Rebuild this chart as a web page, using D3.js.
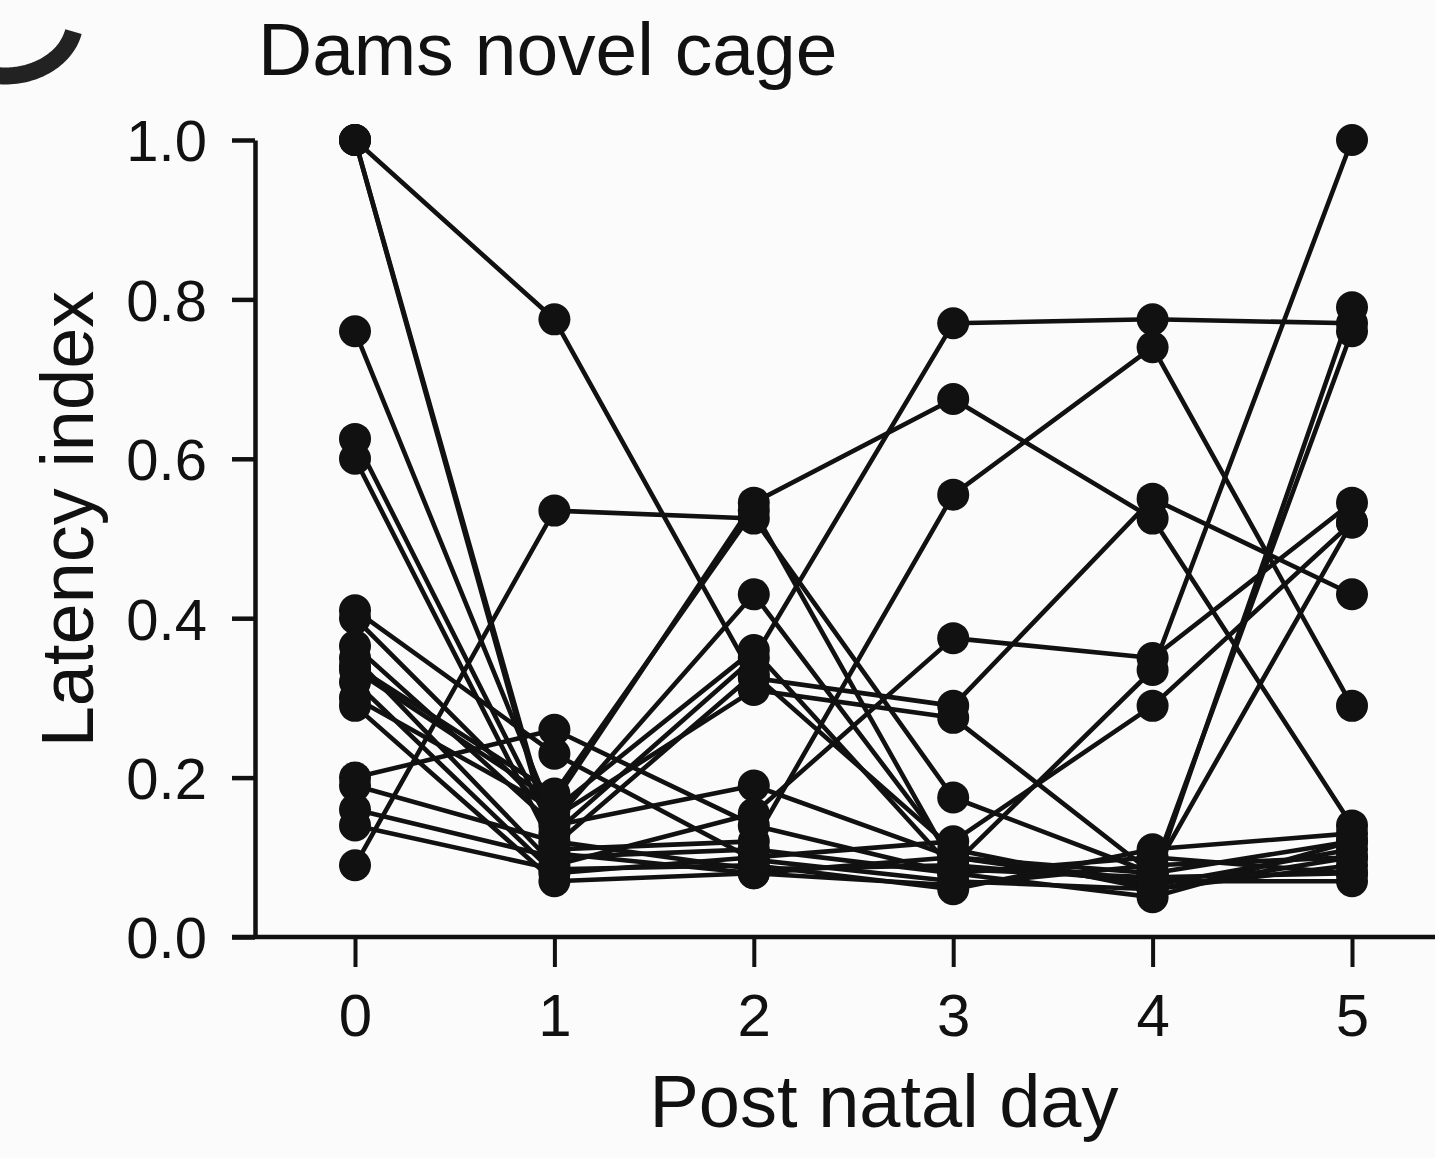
<!DOCTYPE html>
<html>
<head>
<meta charset="utf-8">
<script src="https://cdn.jsdelivr.net/npm/d3@7/dist/d3.min.js"></script>
<style>
  html, body { margin: 0; padding: 0; background: #fbfbfb; }
  svg { display: block; }
  text { font-family: "Liberation Sans", Arial, Helvetica, sans-serif; fill: #111; }
</style>
</head>
<body>
<svg id="chart" width="1435" height="1158"></svg>
<script>
// Post-natal days on the x axis
const days = [0, 1, 2, 3, 4, 5];
const yTicks = [0, 0.2, 0.4, 0.6, 0.8, 1.0];

// Latency index per dam, one array per animal (PND 0 .. 5)
const dam01 = [1.00, 0.775, 0.325, 0.290, 0.550, 0.430];
const dam02 = [1.00, 0.115, 0.330, 0.110, 0.060, 0.090];
const dam03 = [1.00, 0.105, 0.080, 0.100, 0.065, 0.110];
const dam04 = [0.76, 0.146, 0.430, 0.100, 0.070, 0.790];
const dam05 = [0.625, 0.130, 0.350, 0.770, 0.775, 0.770];
const dam06 = [0.600, 0.110, 0.120, 0.555, 0.740, 0.290];
const dam07 = [0.090, 0.535, 0.525, 0.175, 0.080, 0.760];
const dam08 = [0.200, 0.260, 0.140, 0.080, 0.100, 0.080];
const dam09 = [0.410, 0.230, 0.097, 0.070, 0.060, 0.100];
const dam10 = [0.400, 0.150, 0.310, 0.275, 0.080, 0.120];
const dam11 = [0.365, 0.140, 0.190, 0.100, 0.080, 0.520];
const dam12 = [0.350, 0.090, 0.155, 0.375, 0.350, 0.545];
const dam13 = [0.335, 0.170, 0.545, 0.675, 0.525, 0.140];
const dam14 = [0.320, 0.080, 0.100, 0.120, 0.290, 0.520];
const dam15 = [0.290, 0.070, 0.080, 0.065, 0.090, 0.100];
const dam16 = [0.190, 0.120, 0.085, 0.090, 0.070, 0.070];
const dam17 = [0.160, 0.100, 0.110, 0.080, 0.050, 0.120];
const dam18 = [0.140, 0.085, 0.090, 0.060, 0.110, 0.130];
const dam19 = [0.300, 0.160, 0.360, 0.085, 0.075, 0.080];
const dam20 = [0.340, 0.180, 0.535, 0.090, 0.335, 1.000];

const dams = [dam01, dam02, dam03, dam04, dam05, dam06, dam07, dam08, dam09, dam10,
              dam11, dam12, dam13, dam14, dam15, dam16, dam17, dam18, dam19, dam20];

const svg = d3.select("#chart");
const W = 1435;

const x = d3.scaleLinear().domain([0, 5]).range([355, 1352]);
const y = d3.scaleLinear().domain([0, 1]).range([937, 140]);

const ink = "#111";

// lower arc of the panel letter, the rest lies above the top edge
const cx = 5, cy = 20, rx = 70, ry = 56;
const a0 = 12 * Math.PI / 180, a1 = 104 * Math.PI / 180;
const arcPts = d3.range(0, 41).map(k => {
  const t = a0 + (a1 - a0) * k / 40;
  return [cx + rx * Math.cos(t), cy + ry * Math.sin(t)];
});
svg.append("path")
  .attr("d", d3.line()(arcPts))
  .attr("fill", "none")
  .attr("stroke", "#222")
  .attr("stroke-width", 17);

// title
svg.append("text")
  .attr("x", 258).attr("y", 75)
  .attr("font-size", 75)
  .text("Dams novel cage");

// y axis
const yAxis = d3.axisLeft(y)
  .tickValues(yTicks)
  .tickFormat(d3.format(".1f"))
  .tickSize(23)
  .tickSizeOuter(0)
  .tickPadding(25);
const gy = svg.append("g").attr("transform", "translate(255,0)").call(yAxis);
gy.select(".domain").attr("stroke", ink).attr("stroke-width", 4.5);
gy.selectAll(".tick line").attr("stroke", ink).attr("stroke-width", 4.5);
gy.selectAll(".tick text")
  .attr("font-size", 58)
  .attr("dy", "0.36em")
  .style("fill", ink)
  .attr("font-family", "Liberation Sans, Arial, sans-serif");

// x axis
const xAxis = d3.axisBottom(x)
  .tickValues(days)
  .tickFormat(d3.format("d"))
  .tickSize(30)
  .tickSizeOuter(0)
  .tickPadding(26);
const gx = svg.append("g").attr("transform", "translate(0,937)").call(xAxis);
gx.select(".domain").remove();
gx.append("line")
  .attr("x1", 232).attr("x2", W + 5)
  .attr("y1", 0).attr("y2", 0)
  .attr("stroke", ink).attr("stroke-width", 4.5);
gx.selectAll(".tick line").attr("stroke", ink).attr("stroke-width", 4);
gx.selectAll(".tick text")
  .attr("font-size", 60)
  .style("fill", ink)
  .attr("font-family", "Liberation Sans, Arial, sans-serif");

// axis titles
svg.append("text")
  .attr("x", 884).attr("y", 1127)
  .attr("text-anchor", "middle")
  .attr("font-size", 74)
  .text("Post natal day");

svg.append("text")
  .attr("transform", "translate(93,519) rotate(-90)")
  .attr("text-anchor", "middle")
  .attr("font-size", 74)
  .text("Latency index");

// one polyline per dam
const line = d3.line()
  .x((d, i) => x(days[i]))
  .y(d => y(d));

svg.append("g")
  .selectAll("path")
  .data(dams)
  .join("path")
  .attr("d", line)
  .attr("fill", "none")
  .attr("stroke", ink)
  .attr("stroke-width", 4.6)
  .attr("stroke-linejoin", "round");

// markers at each day
const pts = dams.flatMap(s => s.map((v, i) => ({ day: days[i], v })));
svg.append("g")
  .selectAll("circle")
  .data(pts)
  .join("circle")
  .attr("cx", d => x(d.day))
  .attr("cy", d => y(d.v))
  .attr("r", 16)
  .attr("fill", ink);
</script>
</body>
</html>
